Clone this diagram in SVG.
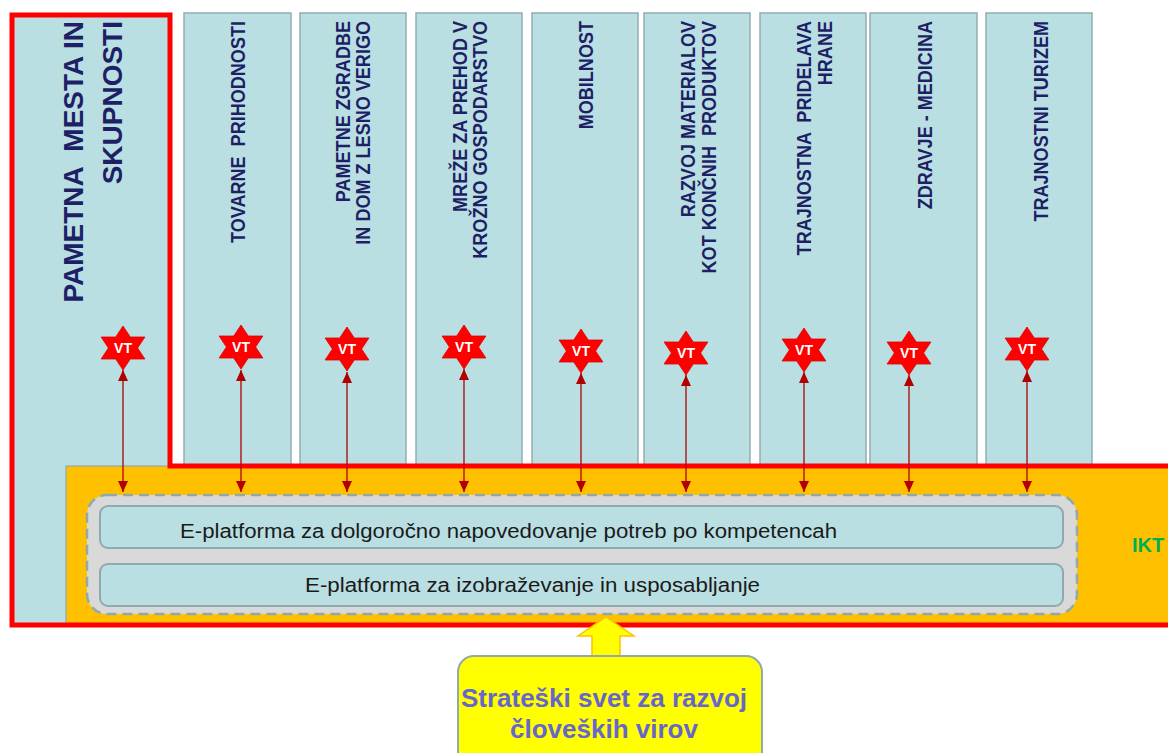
<svg xmlns="http://www.w3.org/2000/svg" width="1168" height="753" viewBox="0 0 1168 753">
<style>
.col{fill:#B9DFE3;stroke:#93AEB2;stroke-width:1.5}
.lbl{font-family:"Liberation Sans",Arial,sans-serif;font-weight:bold;font-size:21px;fill:#1F1F66;text-anchor:end}
.big{font-size:28px}
.vt{font-family:"Liberation Sans",Arial,sans-serif;font-weight:bold;font-size:14px;fill:#FFFFFF;text-anchor:middle}
.star{fill:#FF0000;stroke:#E00000;stroke-width:0.8}
.plat{fill:#B9DFE3;stroke:#8FA9AE;stroke-width:2}
.ptxt{font-family:"Liberation Sans",Arial,sans-serif;font-size:20px;fill:#1A1A1A}
.conn{stroke:#B00000;stroke-width:1.3;fill:none;marker-start:url(#ah);marker-end:url(#ah)}
</style>
<defs>
<path id="hex" d="M0,-22 L7.3,-11 L21.9,-11 L14.6,0 L21.9,11 L7.3,11 L0,22 L-7.3,11 L-21.9,11 L-14.6,0 L-21.9,-11 L-7.3,-11 Z"/>
<marker id="ah" markerUnits="userSpaceOnUse" markerWidth="12" markerHeight="12" viewBox="0 0 12 12" refX="11" refY="6" orient="auto-start-reverse">
<path d="M0,1 L11,6 L0,11 Z" fill="#B00000"/>
</marker>
</defs>
<rect width="1168" height="753" fill="#FFFFFF"/>

<g id="col-pametna-mesta">
<rect x="12" y="15" width="158" height="610" fill="#B9DFE3"/>
</g>
<g id="col-tovarne"><rect class="col" x="184" y="13" width="107" height="455"/>
<text class="lbl" transform="translate(245,21) rotate(-90) scale(0.86,1)" xml:space="preserve">TOVARNE  PRIHODNOSTI</text></g>
<g id="col-zgradbe"><rect class="col" x="300" y="13" width="106" height="455"/>
<text class="lbl" transform="translate(350,21) rotate(-90) scale(0.86,1)">PAMETNE ZGRADBE</text>
<text class="lbl" transform="translate(370,21) rotate(-90) scale(0.86,1)">IN DOM Z LESNO VERIGO</text></g>
<g id="col-mreze"><rect class="col" x="416" y="13" width="106" height="455"/>
<text class="lbl" transform="translate(467,21) rotate(-90) scale(0.86,1)">MREŽE ZA PREHOD V</text>
<text class="lbl" transform="translate(487,21) rotate(-90) scale(0.86,1)">KROŽNO GOSPODARSTVO</text></g>
<g id="col-mobilnost"><rect class="col" x="532" y="13" width="106" height="455"/>
<text class="lbl" transform="translate(593,21) rotate(-90) scale(0.86,1)">MOBILNOST</text></g>
<g id="col-razvoj"><rect class="col" x="644" y="13" width="106" height="455"/>
<text class="lbl" transform="translate(695,21) rotate(-90) scale(0.86,1)">RAZVOJ MATERIALOV</text>
<text class="lbl" transform="translate(716,21) rotate(-90) scale(0.86,1)" xml:space="preserve">KOT KONČNIH  PRODUKTOV</text></g>
<g id="col-hrana"><rect class="col" x="760" y="13" width="106" height="455"/>
<text class="lbl" transform="translate(811,21) rotate(-90) scale(0.86,1)" xml:space="preserve">TRAJNOSTNA  PRIDELAVA</text>
<text class="lbl" transform="translate(832,21) rotate(-90) scale(0.86,1)">HRANE</text></g>
<g id="col-zdravje"><rect class="col" x="870" y="13" width="107" height="455"/>
<text class="lbl" transform="translate(932,21) rotate(-90) scale(0.86,1)">ZDRAVJE - MEDICINA</text></g>
<g id="col-turizem"><rect class="col" x="986" y="13" width="106" height="455"/>
<text class="lbl" transform="translate(1048,21) rotate(-90) scale(0.86,1)">TRAJNOSTNI TURIZEM</text></g>

<g id="ikt">
<rect x="66" y="466" width="1110" height="158" fill="#FFC000" stroke="#8FA9AE" stroke-width="1.2"/>
<text x="1132" y="552" font-family="'Liberation Sans',Arial,sans-serif" font-weight="bold" font-size="20" fill="#00B050">IKT</text>
</g>

<g id="red-frame">
<path d="M1172,466 H170 V15 H12 V625 H1172" fill="none" stroke="#FF0000" stroke-width="5"/>
</g>

<g id="col-pametna-label">
<text class="lbl big" transform="translate(83,21) rotate(-90)" xml:space="preserve">PAMETNA  MESTA IN</text>
<text class="lbl big" transform="translate(122,21) rotate(-90)">SKUPNOSTI</text>
</g>

<g id="platforms">
<rect x="87" y="495" width="990" height="119" rx="20" fill="#D9D9D9" stroke="#8FA9AE" stroke-width="2.5" stroke-dasharray="10,6"/>
<g id="platform-1"><rect class="plat" x="100" y="506" width="963" height="42" rx="8"/>
<text class="ptxt" x="180" y="538" textLength="657" lengthAdjust="spacingAndGlyphs">E-platforma za dolgoročno napovedovanje potreb po kompetencah</text></g>
<g id="platform-2"><rect class="plat" x="100" y="564" width="963" height="42" rx="8"/>
<text class="ptxt" x="305" y="592" textLength="455" lengthAdjust="spacingAndGlyphs">E-platforma za izobraževanje in usposabljanje</text></g>
</g>

<g id="connectors">
<line class="conn" x1="123" y1="370" x2="123" y2="492"/>
<line class="conn" x1="241" y1="370" x2="241" y2="492"/>
<line class="conn" x1="347" y1="372" x2="347" y2="492"/>
<line class="conn" x1="464" y1="369" x2="464" y2="492"/>
<line class="conn" x1="581" y1="373" x2="581" y2="492"/>
<line class="conn" x1="686" y1="375" x2="686" y2="492"/>
<line class="conn" x1="804" y1="372" x2="804" y2="492"/>
<line class="conn" x1="909" y1="375" x2="909" y2="492"/>
<line class="conn" x1="1027" y1="371" x2="1027" y2="492"/>
</g>

<g id="vt-stars">
<g id="vt1" transform="translate(123,348)"><use href="#hex" class="star"/><text class="vt" y="5">VT</text></g>
<g id="vt2" transform="translate(241,347)"><use href="#hex" class="star"/><text class="vt" y="5">VT</text></g>
<g id="vt3" transform="translate(347,349)"><use href="#hex" class="star"/><text class="vt" y="5">VT</text></g>
<g id="vt4" transform="translate(464,347)"><use href="#hex" class="star"/><text class="vt" y="5">VT</text></g>
<g id="vt5" transform="translate(581,351)"><use href="#hex" class="star"/><text class="vt" y="5">VT</text></g>
<g id="vt6" transform="translate(686,353)"><use href="#hex" class="star"/><text class="vt" y="5">VT</text></g>
<g id="vt7" transform="translate(804,350)"><use href="#hex" class="star"/><text class="vt" y="5">VT</text></g>
<g id="vt8" transform="translate(909,353)"><use href="#hex" class="star"/><text class="vt" y="5">VT</text></g>
<g id="vt9" transform="translate(1027,349)"><use href="#hex" class="star"/><text class="vt" y="5">VT</text></g>
</g>

<g id="up-arrow">
<polygon points="606,617 634,636 620,636 620,657 592,657 592,636 578,636" fill="#FFFF00" stroke="#FFC000" stroke-width="1.5"/>
</g>

<g id="strateski-svet">
<rect x="458" y="656" width="304" height="112" rx="16" fill="#FFFF00" stroke="#8FA9AE" stroke-width="2"/>
<text x="604" y="707" text-anchor="middle" font-family="'Liberation Sans',Arial,sans-serif" font-weight="bold" font-size="26" fill="#6666CC">Strateški svet za razvoj</text>
<text x="604" y="738" text-anchor="middle" font-family="'Liberation Sans',Arial,sans-serif" font-weight="bold" font-size="26" fill="#6666CC">človeških virov</text>
</g>
</svg>
